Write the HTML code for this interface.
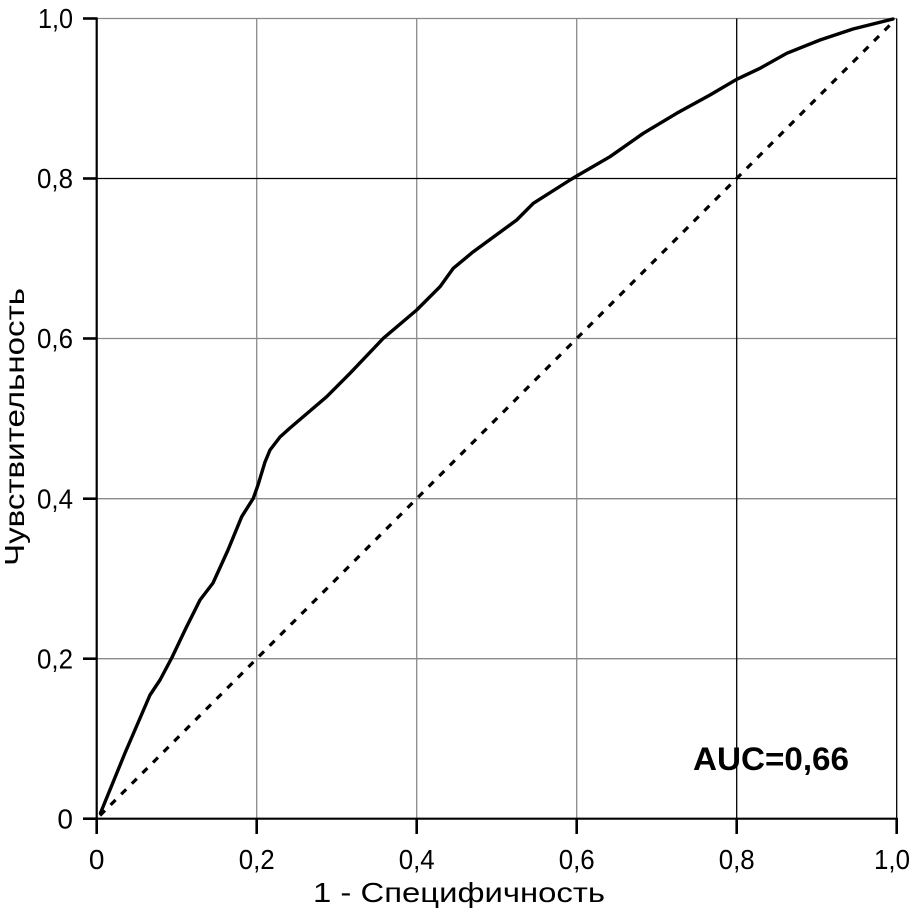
<!DOCTYPE html>
<html>
<head>
<meta charset="utf-8">
<style>
  html, body { margin: 0; padding: 0; background: #fff; }
  svg { display: block; }
  text { font-family: "Liberation Sans", "DejaVu Sans", sans-serif; fill: #000; }
</style>
</head>
<body>
<svg width="917" height="917" viewBox="0 0 917 917" xmlns="http://www.w3.org/2000/svg">
  <rect width="917" height="917" fill="#fff"/>
  <!-- grid lines -->
  <g stroke="#8a8a8a" stroke-width="1.3" fill="none">
    <line x1="96.7" y1="18.5" x2="896.7" y2="18.5"/>
    <line x1="96.7" y1="338.5" x2="896.7" y2="338.5"/>
    <line x1="96.7" y1="498.7" x2="896.7" y2="498.7"/>
    <line x1="96.7" y1="658.7" x2="896.7" y2="658.7"/>
    <line x1="256.7" y1="18.5" x2="256.7" y2="818.7"/>
    <line x1="416.7" y1="18.5" x2="416.7" y2="818.7"/>
    <line x1="576.7" y1="18.5" x2="576.7" y2="818.7"/>
  </g>
  <g stroke="#000" stroke-width="1.3" fill="none">
    <line x1="96.7" y1="178.5" x2="896.7" y2="178.5"/>
    <line x1="736.7" y1="18.5" x2="736.7" y2="818.7"/>
    <line x1="896.7" y1="18.5" x2="896.7" y2="818.7"/>
  </g>
  <!-- axes -->
  <g stroke="#000" stroke-width="2.2" fill="none">
    <line x1="96.7" y1="17.5" x2="96.7" y2="819.7"/>
    <line x1="95.7" y1="818.7" x2="897.5" y2="818.7"/>
  </g>
  <!-- ticks -->
  <g stroke="#000" stroke-width="2.6" fill="none">
    <line x1="83" y1="18.5" x2="97" y2="18.5"/>
    <line x1="83" y1="178.5" x2="97" y2="178.5"/>
    <line x1="83" y1="338.5" x2="97" y2="338.5"/>
    <line x1="83" y1="498.7" x2="97" y2="498.7"/>
    <line x1="83" y1="658.7" x2="97" y2="658.7"/>
    <line x1="83" y1="818.7" x2="97" y2="818.7"/>
    <line x1="96.7" y1="818" x2="96.7" y2="834"/>
    <line x1="256.7" y1="818" x2="256.7" y2="834"/>
    <line x1="416.7" y1="818" x2="416.7" y2="834"/>
    <line x1="576.7" y1="818" x2="576.7" y2="834"/>
    <line x1="736.7" y1="818" x2="736.7" y2="834"/>
    <line x1="896.7" y1="818" x2="896.7" y2="834"/>
  </g>
  <!-- y tick labels -->
  <g font-size="28" text-anchor="end">
    <text x="73" y="28" textLength="35" lengthAdjust="spacingAndGlyphs">1,0</text>
    <text x="73" y="188" textLength="36" lengthAdjust="spacingAndGlyphs">0,8</text>
    <text x="73" y="348" textLength="36" lengthAdjust="spacingAndGlyphs">0,6</text>
    <text x="73" y="508.5" textLength="36" lengthAdjust="spacingAndGlyphs">0,4</text>
    <text x="73" y="668.5" textLength="36" lengthAdjust="spacingAndGlyphs">0,2</text>
    <text x="73" y="828.5">0</text>
  </g>
  <!-- x tick labels -->
  <g font-size="28" text-anchor="middle">
    <text x="96.7" y="869">0</text>
    <text x="256.7" y="869" textLength="36" lengthAdjust="spacingAndGlyphs">0,2</text>
    <text x="416.7" y="869" textLength="36" lengthAdjust="spacingAndGlyphs">0,4</text>
    <text x="576.7" y="869" textLength="36" lengthAdjust="spacingAndGlyphs">0,6</text>
    <text x="736.7" y="869" textLength="36" lengthAdjust="spacingAndGlyphs">0,8</text>
    <text x="892" y="869" textLength="36" lengthAdjust="spacingAndGlyphs">1,0</text>
  </g>
  <!-- axis titles -->
  <text x="313" y="902" font-size="28" textLength="292" lengthAdjust="spacingAndGlyphs">1 - Специфичность</text>
  <text transform="translate(24,566) rotate(-90)" x="0" y="0" font-size="28" textLength="278" lengthAdjust="spacingAndGlyphs">Чувствительность</text>
  <!-- diagonal -->
  <line x1="100" y1="815.5" x2="893" y2="22" stroke="#000" stroke-width="3.2" stroke-dasharray="7,8"/>
  <!-- ROC curve -->
  <polyline fill="none" stroke="#000" stroke-width="3.4" stroke-linejoin="round" stroke-linecap="round"
    points="100.5,813 125,753 150,695 160,680 171.7,658 186,628 200,600 213,583 228,550 241.7,516.7 253.3,498.3 258,485 265,462 270,450 280,437 290,428 326.7,396.7 350,373.3 383.3,338.3 416.7,310 440,286.7 453.3,268.3 473.3,251.7 516.7,220 533.3,203.3 570,180 576.7,176 610,156.7 643.3,133.3 676.7,113.3 710,95 736.7,79.3 760,68.3 786.7,53.3 820,40 853,29 893,19"/>
  <!-- AUC -->
  <text x="693" y="770" font-size="32" font-weight="bold" textLength="156" lengthAdjust="spacingAndGlyphs">AUC=0,66</text>
</svg>
</body>
</html>
